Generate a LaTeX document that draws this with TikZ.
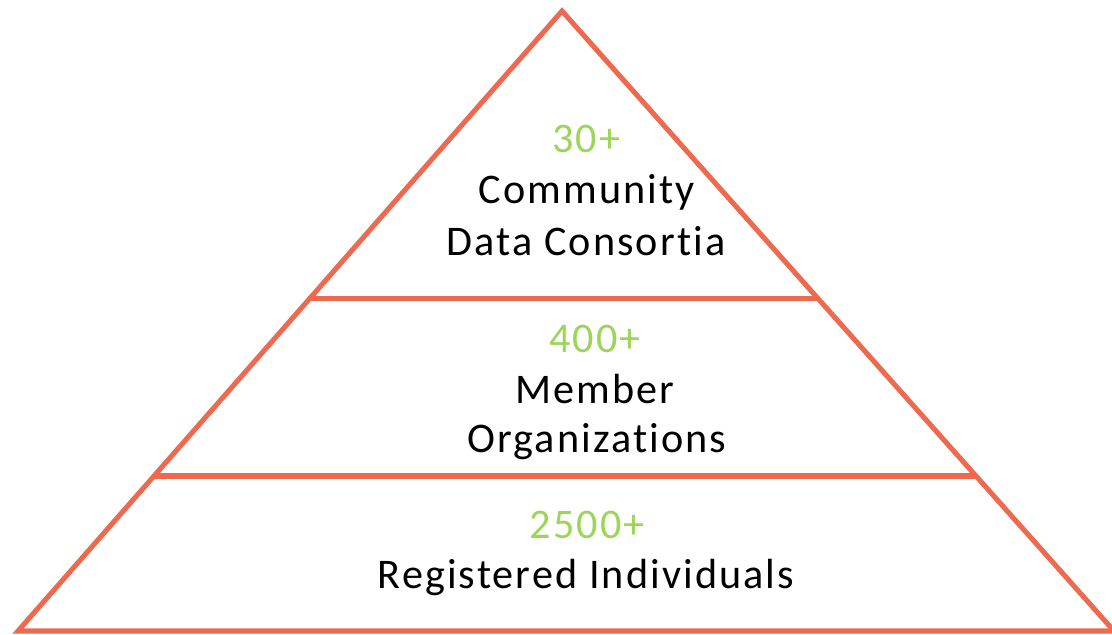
\documentclass[tikz,border=0pt]{standalone}
\usepackage{fontspec}
\setmainfont{Carlito}[LetterSpace=5,Ligatures=NoCommon]
\usetikzlibrary{calc}

\definecolor{tierline}{RGB}{237,106,80}
\definecolor{countgreen}{RGB}{157,212,90}

\tikzset{tier/.style={draw=tierline,line width=3.6pt,line join=miter},
         count/.style={anchor=base,text=countgreen,font=\fontsize{30}{36}\selectfont},
         label/.style={anchor=base,text=black,font=\fontsize{30}{36}\selectfont}}

\begin{document}
\begin{tikzpicture}[x=0.025cm,y=-0.025cm]

                    \useasboundingbox (0,0) rectangle (1112,634);

                    \coordinate (apex) at (562,11);
                    \coordinate (bl) at (18,631);
                    \coordinate (br) at (1114,631);

                    \path[tier] (apex) -- (br) -- (bl) -- cycle;

                    \coordinate (l1) at ($(bl)!0.537!(apex)$);
                    \coordinate (r1) at ($(br)!0.537!(apex)$);
                    \coordinate (l2) at ($(bl)!0.25!(apex)$);
                    \coordinate (r2) at ($(br)!0.25!(apex)$);

                    \draw[tier] (l1) -- (r1);
                    \draw[tier] (l2) -- (r2);

                    \node[count] (consortiacount) at (586,152) {30+};
                    \node[label] (consortia1) at (587,203) {Community};
                    \node[label] (consortia2) at (586,255) {Data Consortia};

                    \node[count] (membercount) at (595,352) {400+};
                    \node[label] (member1) at (595,403) {Member};
                    \node[label] (member2) at (597,452) {Organizations};

                    \node[count] (individualcount) at (587,538) {2500+};
                    \node[label] (individual) at (586,588) {Registered Individuals};

                \end{tikzpicture}
\end{document}
